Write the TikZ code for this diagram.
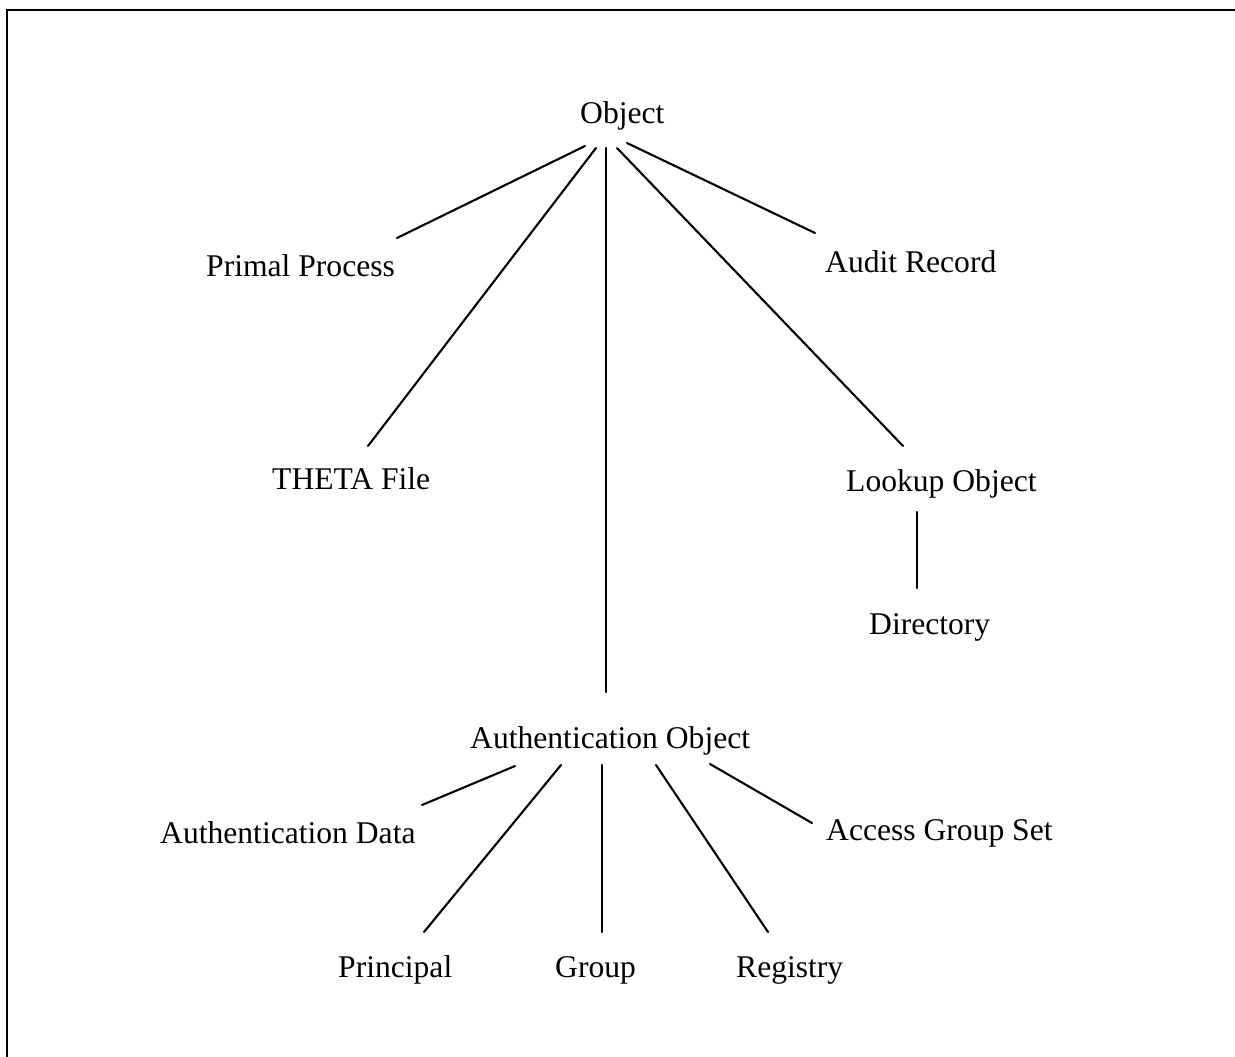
\documentclass[tikz,border=0pt]{standalone}
\usepackage{fontspec}
\setmainfont{Liberation Serif}
\usetikzlibrary{calc}
\begin{document}
\begin{tikzpicture}[x=1pt,y=1pt,
  lbl/.style={anchor=base west, inner sep=0pt, font=\fontsize{31.6}{38}\selectfont},
  link/.style={line width=2.1pt, line cap=round},
  frame/.style={line width=2.4pt}]
\useasboundingbox (0,0) rectangle (1235,-1057);

% frame edges
\coordinate (fr-top) at (1235,-10);
\coordinate (fr-corner) at (7,-10);
\coordinate (fr-bottom) at (7,-1057);
\draw[frame] (fr-top) -- (fr-corner) -- (fr-bottom);

% class hierarchy
\node[lbl] (obj)   at (580,-123) {Object};
\node[lbl] (pp)    at (206,-276) {Primal Process};
\node[lbl] (audit) at (825,-272) {Audit Record};
\node[lbl] (theta) at (272,-489) {THETA File};
\node[lbl] (look)  at (846,-491) {Lookup Object};
\node[lbl] (dir)   at (869,-634) {Directory};
\node[lbl] (ao)    at (470,-748) {Authentication Object};
\node[lbl] (ad)    at (160,-843) {Authentication Data};
\node[lbl] (ags)   at (826,-840) {Access Group Set};
\node[lbl] (prin)  at (338,-977) {Principal};
\node[lbl] (grp)   at (555,-977) {Group};
\node[lbl] (reg)   at (736,-977) {Registry};

% edges from Object
\draw[link] ($(obj.base west)+(5,-23)$)  -- ($(pp.base west)+(191,38)$);
\draw[link] ($(obj.base west)+(16,-25)$) -- ($(theta.base west)+(96,43)$);
\draw[link] ($(obj.base west)+(26,-25)$) -- ($(ao.base west)+(136,56)$);
\draw[link] ($(obj.base west)+(37,-25)$) -- ($(look.base west)+(57,45)$);
\draw[link] ($(obj.base west)+(47,-20)$) -- ($(audit.base west)+(-10,39)$);

% Lookup Object
\draw[link] ($(look.base west)+(71,-21)$) -- ($(dir.base west)+(48,46)$);

% edges from Authentication Object
\draw[link] ($(ao.base west)+(45,-18)$)  -- ($(ad.base west)+(262,38)$);
\draw[link] ($(ao.base west)+(91,-17)$)  -- ($(prin.base west)+(86,45)$);
\draw[link] ($(ao.base west)+(132,-17)$) -- ($(grp.base west)+(47,45)$);
\draw[link] ($(ao.base west)+(186,-17)$) -- ($(reg.base west)+(32,45)$);
\draw[link] ($(ao.base west)+(240,-16)$) -- ($(ags.base west)+(-14,17)$);
\end{tikzpicture}
\end{document}
